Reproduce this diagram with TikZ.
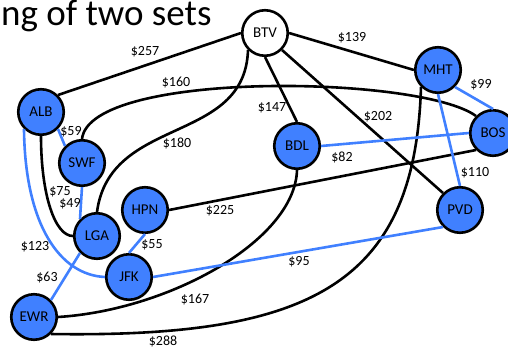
\documentclass[tikz,border=0pt]{standalone}
\usepackage{fontspec}
\setmainfont{Carlito}
\definecolor{airblue}{RGB}{64,128,255}

\begin{document}
\begin{tikzpicture}[x=1pt,y=-1pt,
    city/.style={circle,draw=black,line width=2.6pt,fill=airblue,minimum size=45.5pt,inner sep=0pt,font=\fontsize{15}{17}\selectfont},
    hub/.style={city,fill=white},
    cost/.style={inner sep=0pt,font=\fontsize{14}{16}\selectfont},
    road/.style={line width=2.6pt,black},
    pick/.style={line width=2.6pt,airblue}]
    \useasboundingbox (0,0) rectangle (508,348);
    % 标题
    \node[anchor=base west,inner sep=0pt,font=\fontsize{37}{40}\selectfont] (title) at (1,25) {ng of two sets};

    % 机场
    \node[hub] (BTV) at (265,33) {BTV};
    \node[city] (MHT) at (438,70) {MHT};
    \node[city] (BOS) at (493,133) {BOS};
    \node[city] (BDL) at (297,146) {BDL};
    \node[city] (PVD) at (460,210) {PVD};
    \node[city] (ALB) at (41,112) {ALB};
    \node[city] (SWF) at (82,163) {SWF};
    \node[city] (HPN) at (145,210) {HPN};
    \node[city] (LGA) at (97,236) {LGA};
    \node[city] (JFK) at (129,277) {JFK};
    \node[city] (EWR) at (34,317) {EWR};

    % 黑色航线
    \draw[road] (ALB.north east) -- (BTV.west);
    \draw[road] (BTV.east) -- (MHT.west);
    \draw[road] (BTV.south) -- (BDL.north);
    \draw[road] (BTV.south east) -- (PVD.north west);
    \draw[road] (HPN.east) -- (BOS.south west);
    \draw[road] (BTV.south west) .. controls (245,145) and (110,115) .. (LGA.north);
    \draw[road] (SWF.north) .. controls (90,70) and (420,75) .. (BOS.north west);
    \draw[road] (ALB.south) .. controls (41,195) and (55,236) .. (LGA.west);
    \draw[road] (BDL.south) .. controls (295,240) and (170,310) .. (EWR.east);
    \draw[road] (MHT.south west) .. controls (415,285) and (310,338) .. (EWR.south east);

    % 蓝色航线
    \draw[pick] (MHT.south east) -- (BOS.north);
    \draw[pick] (MHT.south) -- (PVD.north);
    \draw[pick] (BDL.east) -- (BOS.west);
    \draw[pick] (ALB.south east) -- (SWF.north west);
    \draw[pick] (SWF.south) -- (LGA.north west);
    \draw[pick] (HPN.south) -- (JFK.north);
    \draw[pick] (LGA.south west) -- (EWR.north east);
    \draw[pick] (JFK.east) -- (PVD.south west);
    \draw[pick] (ALB.south west) .. controls (25,225) and (60,275) .. (JFK.west);

    % 票价
    \node[cost] (c257) at (145,52) {\$257};
    \node[cost] (c139) at (352,38) {\$139};
    \node[cost] (c160) at (176,83) {\$160};
    \node[cost] (c99) at (481,85) {\$99};
    \node[cost] (c147) at (272,108) {\$147};
    \node[cost] (c202) at (378,117) {\$202};
    \node[cost] (c59) at (71,132) {\$59};
    \node[cost] (c180) at (177,143) {\$180};
    \node[cost] (c82) at (342,157) {\$82};
    \node[cost] (c110) at (475,173) {\$110};
    \node[cost] (c75) at (60,192) {\$75};
    \node[cost] (c49) at (70,204) {\$49};
    \node[cost] (c225) at (220,211) {\$225};
    \node[cost] (c55) at (152,245) {\$55};
    \node[cost] (c123) at (35,247) {\$123};
    \node[cost] (c95) at (299,262) {\$95};
    \node[cost] (c63) at (47,278) {\$63};
    \node[cost] (c167) at (195,300) {\$167};
    \node[cost] (c288) at (163,341) {\$288};
\end{tikzpicture}
\end{document}
